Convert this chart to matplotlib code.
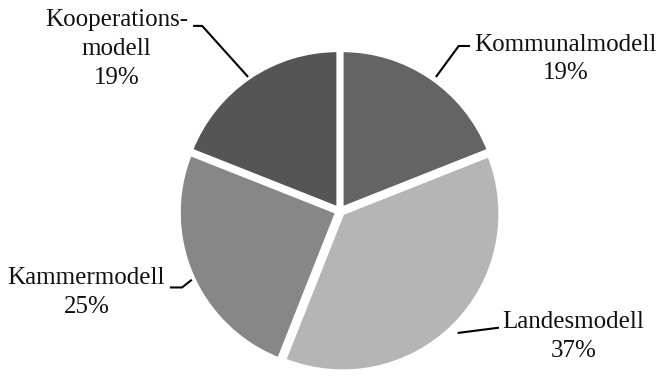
import matplotlib
matplotlib.use("Agg")
import matplotlib.pyplot as plt

# ---- DATA ----
labels = ["Kommunalmodell", "Landesmodell", "Kammermodell", "Kooperations-\nmodell"]
shares = [19, 37, 25, 19]
colors = ["#646464", "#b5b5b5", "#878787", "#555555"]

plt.rcParams["font.family"] = ["Liberation Serif", "DejaVu Serif"]

W, H = 660, 380
fig = plt.figure(figsize=(W / 100, H / 100), dpi=100)

# pie centre at (340, 211) px, radius ~157 px
r_px = 157
lim = 1.1
size = 2 * lim * r_px
cx, cy = 340, 211
ax = fig.add_axes([(cx - size / 2) / W, (H - cy - size / 2) / H, size / W, size / H])

ax.pie(
    shares,
    colors=colors,
    startangle=90,
    counterclock=False,
    explode=[0.025] * len(shares),
    wedgeprops=dict(edgecolor="white", linewidth=2),
)
ax.set_xlim(-lim, lim)
ax.set_ylim(-lim, lim)
ax.set_aspect("equal")
ax.axis("off")

# label positions and leader lines (data coords, radius = 1)
text_pos = [(1.436, 0.968), (1.487, -0.80), (-1.615, -0.52), (-1.423, 1.03)]
leaders = [
    [(0.615, 0.859), (0.756, 1.051), (0.821, 1.051)],
    [(0.756, -0.776), (1.006, -0.744)],
    [(-1.077, -0.487), (-1.006, -0.487), (-0.949, -0.442)],
    [(-0.929, 1.179), (-0.878, 1.179), (-0.590, 0.859)],
]

for lab, pct, (tx, ty), pts in zip(labels, shares, text_pos, leaders):
    ax.text(tx, ty, f"{lab}\n{pct}%", ha="center", va="center",
            multialignment="center", fontsize=18, linespacing=1.4,
            color="#111111")
    xs = [p[0] for p in pts]
    ys = [p[1] for p in pts]
    ax.plot(xs, ys, color="black", linewidth=1.5, clip_on=False)

fig.savefig("out.png", dpi=100)
